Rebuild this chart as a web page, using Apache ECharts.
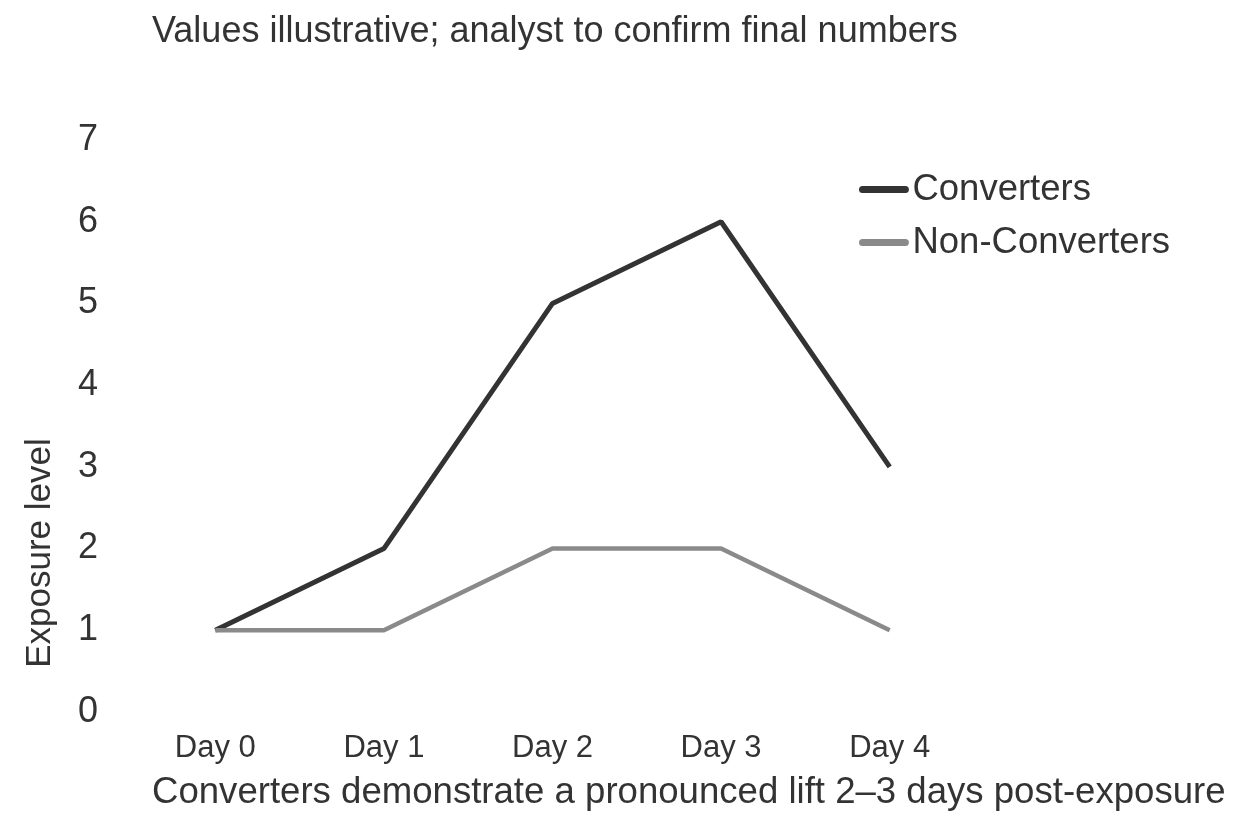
<!DOCTYPE html>
<html>
<head>
<meta charset="utf-8">
<script src="https://cdn.jsdelivr.net/npm/echarts@6/dist/echarts.min.js"></script>
<style>html,body{margin:0;padding:0;background:#fff;}#c{width:1240px;height:831px;}</style>
</head>
<body>
<div id="c"></div>
<script>
var categories = ['Day 0', 'Day 1', 'Day 2', 'Day 3', 'Day 4'];
var converters = [1, 2, 5, 6, 3];
var nonConverters = [1, 1, 2, 2, 1];
var yTicks = [0, 1, 2, 3, 4, 5, 6, 7];
var titleText = 'Values illustrative; analyst to confirm final numbers';
var subtitleText = 'Converters demonstrate a pronounced lift 2\u20133 days post-exposure';
var yName = 'Exposure level';

var font = 'Liberation Sans, Arial, sans-serif';
var capsule = 'path://M4,0 L53,0 A4,4 0 0 1 53,8 L4,8 A4,4 0 0 1 4,0 Z';
var chart = echarts.init(document.getElementById('c'));
chart.setOption({
  backgroundColor: '#ffffff',
  animation: false,
  textStyle: { fontFamily: font, color: '#333' },
  title: [
    { text: titleText, left: 147, top: 9, textStyle: { fontFamily: font, fontSize: 36, fontWeight: 'normal', color: '#333' } },
    { text: subtitleText, left: 147, top: 769, textStyle: { fontFamily: font, fontSize: 36.6, fontWeight: 'normal', color: '#333' } }
  ],
  graphic: [{
    type: 'text', x: 40, y: 553, rotation: Math.PI / 2,
    style: { text: yName, fontFamily: font, fontSize: 35, fill: '#333', align: 'center', verticalAlign: 'middle' }
  }],
  legend: {
    orient: 'vertical', left: 854, top: 166, itemGap: 16,
    itemWidth: 57, itemHeight: 7,
    textStyle: { fontFamily: font, fontSize: 36.5, color: '#333', padding: [0,0,0,-5] },
    data: [
      { name: 'Converters', icon: capsule, itemStyle: { color: '#333333' } },
      { name: 'Non-Converters', icon: capsule, itemStyle: { color: '#8a8a8a' } }
    ]
  },
  grid: { left: 131, right: 266, top: 140, bottom: 119, containLabel: false },
  xAxis: {
    type: 'category', data: categories, boundaryGap: true,
    axisLine: { show: false }, axisTick: { show: false }, splitLine: { show: false },
    axisLabel: { fontFamily: font, fontSize: 31, color: '#333', margin: 21 }
  },
  yAxis: {
    type: 'value', min: yTicks[0], max: yTicks[yTicks.length - 1], interval: 1,
    axisLine: { show: false }, axisTick: { show: false }, splitLine: { show: false },
    axisLabel: { fontFamily: font, fontSize: 36, color: '#333', margin: 33 }
  },
  series: [
    { name: 'Converters', type: 'line', data: converters, symbol: 'none',
      lineStyle: { color: '#333333', width: 5 }, itemStyle: { color: '#333333' } },
    { name: 'Non-Converters', type: 'line', data: nonConverters, symbol: 'none',
      lineStyle: { color: '#8a8a8a', width: 4.5 }, itemStyle: { color: '#8a8a8a' } }
  ]
});
</script>
</body>
</html>
